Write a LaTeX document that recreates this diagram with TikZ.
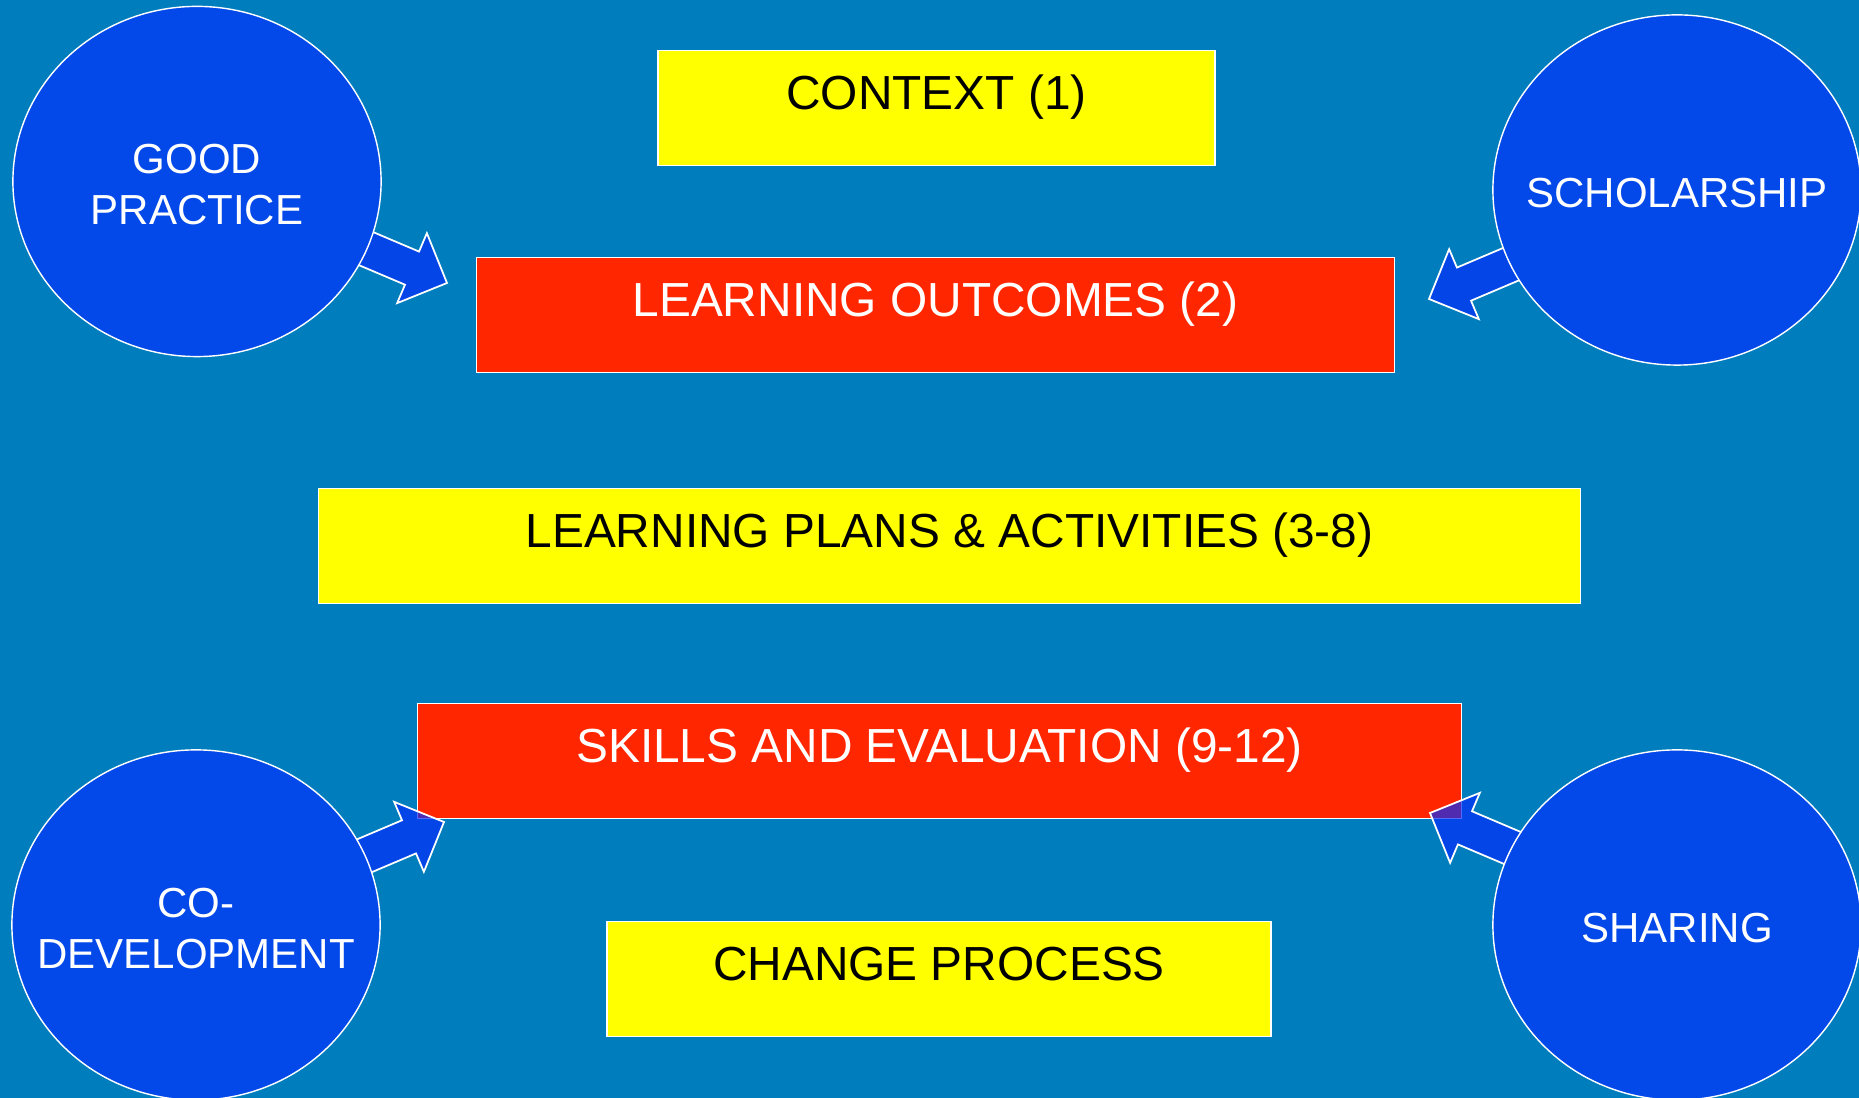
\documentclass[tikz,border=0pt]{standalone}
\usepackage{fontspec}
\setmainfont{Liberation Sans}
\usetikzlibrary{shapes.geometric}
\definecolor{slidebg}{RGB}{0,125,188}
\definecolor{ballblue}{RGB}{3,72,232}
\definecolor{arrowblue}{RGB}{6,46,251}
\definecolor{boxred}{RGB}{255,38,0}
\definecolor{boxyellow}{RGB}{255,255,0}
\begin{document}
\begin{tikzpicture}[x=0.01cm,y=-0.01cm,
  panel/.style={rectangle, draw=white, line width=0.4pt, anchor=north,
    inner xsep=0pt, inner ysep=0pt, text height=0.59cm, text depth=0.56cm,
    font=\fontsize{13.6}{16}\selectfont},
  yellowpanel/.style={panel, fill=boxyellow, text=black},
  redpanel/.style={panel, fill=boxred, text=white},
  ball/.style={ellipse, draw=white, line width=0.4pt, fill=ballblue,
    minimum width=3.68cm, minimum height=3.5cm, inner sep=0pt},
  balltext/.style={text=white, align=center, inner sep=0pt, yshift=-0.035cm,
    font=\fontsize{11.95}{14.5}\selectfont},
  blockarrowstyle/.style={fill=arrowblue, fill opacity=0.7, draw=white,
    line width=0.5pt, line join=miter},
  pics/blockarrow/.style={code={
    \draw[blockarrowstyle] (0,0) -- (-38,-38) -- (-38,-18) -- (-100,-18)
      -- (-100,18) -- (-38,18) -- (-38,38) -- cycle;}}
]
% slide background
\fill[slidebg] (0,0) rectangle (1859,1098);
\useasboundingbox (0,0) rectangle (1859,1098);

% central column of panels
\node[yellowpanel, minimum width=5.57cm] (context) at (936.5,50) {CONTEXT (1)};
\node[redpanel, minimum width=9.17cm] (outcomes) at (935.5,257) {LEARNING OUTCOMES (2)};
\node[yellowpanel, minimum width=12.61cm] (plans) at (949.5,488) {LEARNING PLANS \& ACTIVITIES (3-8)};
\node[redpanel, minimum width=10.43cm] (skills) at (939.5,703) {SKILLS AND EVALUATION (9-12)};
\node[yellowpanel, minimum width=6.64cm] (change) at (939,921) {CHANGE PROCESS};

% block arrows pointing from the corner themes into the panels
\pic[rotate=-23] at (447,283) {blockarrow};
\pic[rotate=203] at (1429,299) {blockarrow};
\pic[rotate=23] at (444,822) {blockarrow};
\pic[rotate=157] at (1430,813) {blockarrow};

% corner themes: fixed-size discs with the caption set on top
\node[ball, label={[balltext]center:GOOD\\PRACTICE}] (practice) at (197,181.5) {};
\node[ball, label={[balltext]center:SCHOLARSHIP}] (scholarship) at (1677,190) {};
\node[ball, label={[balltext]center:CO-\\DEVELOPMENT}] (codev) at (196,925) {};
\node[ball, label={[balltext]center:SHARING}] (sharing) at (1677,925) {};
\end{tikzpicture}
\end{document}
